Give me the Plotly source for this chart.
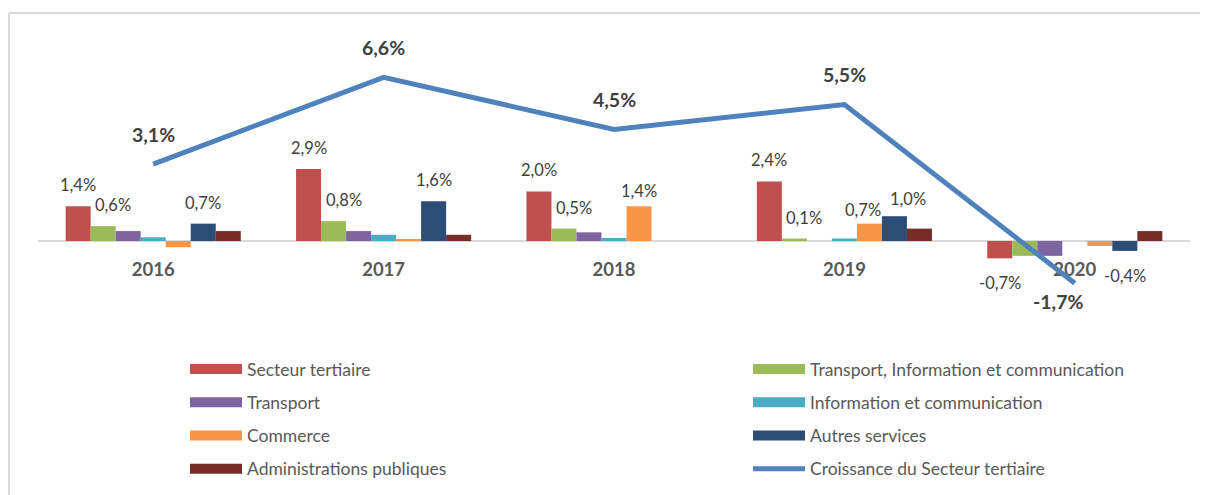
import plotly.graph_objects as go

# ---------------- data ----------------
years = ["2016", "2017", "2018", "2019", "2020"]

secteur_tertiaire = [1.4, 2.9, 2.0, 2.4, -0.7]
transport_info_comm = [0.6, 0.8, 0.5, 0.1, -0.6]
transport = [0.4, 0.4, 0.35, None, -0.6]
information_comm = [0.15, 0.25, 0.12, 0.1, None]
commerce = [-0.25, 0.07, 1.4, 0.7, -0.2]
autres_services = [0.7, 1.6, None, 1.0, -0.4]
administrations = [0.4, 0.25, None, 0.5, 0.4]
croissance_tertiaire = [3.1, 6.6, 4.5, 5.5, -1.7]

bar_names = [
    "Secteur tertiaire",
    "Transport, Information et communication",
    "Transport",
    "Information et communication",
    "Commerce",
    "Autres services",
    "Administrations publiques",
]
bar_values = [
    secteur_tertiaire,
    transport_info_comm,
    transport,
    information_comm,
    commerce,
    autres_services,
    administrations,
]
line_name = "Croissance du Secteur tertiaire"

# which bars carry a data label (series index -> years shown)
labeled_bars = {
    0: [True, True, True, True, True],
    1: [True, True, True, True, False],
    4: [False, False, True, True, False],
    5: [True, True, False, True, True],
}

# ---------------- style ----------------
bar_colors = ["#C0504D", "#9BBB59", "#8064A2", "#4BACC6", "#F79646", "#2C4D75", "#772C2A"]
line_color = "#4F81BD"
font_family = "Lato, 'Open Sans', sans-serif"
label_color = "#404040"
axis_text_color = "#595959"
border_color = "#D9D9D9"

# label placement tweaks (pixels)
label_xshift_series = {1: 10}
label_shift_point = {(4, 2): (0, 15), (4, 3): (-6, 14), (5, 3): (14, 17)}

OFF = 8  # page body margin
W, H = 1208 - OFF, 495 - OFF
PLOT_LEFT, PLOT_RIGHT, PLOT_TOP, PLOT_BOTTOM = 38, 1190, 20, 320  # screen px
ML = PLOT_LEFT - OFF
MR = W - (PLOT_RIGHT - OFF)
MT = PLOT_TOP - OFF
MB = H - (PLOT_BOTTOM - OFF)
PLOT_W = PLOT_RIGHT - PLOT_LEFT
PLOT_H = PLOT_BOTTOM - PLOT_TOP
PX_PER_UNIT = 24.8
ZERO_Y = 241  # screen px
ymax = (ZERO_Y - PLOT_TOP) / PX_PER_UNIT
ymin = -(PLOT_BOTTOM - ZERO_Y) / PX_PER_UNIT
BARGAP = 0.24
n_bars = len(bar_names)
bar_w = (1 - BARGAP) / n_bars


def px_x(px):
    return (px - PLOT_LEFT) / PLOT_W


def px_y(py):
    return (PLOT_BOTTOM - py) / PLOT_H


def fmt(v):
    return f"{v:.1f}".replace(".", ",") + "%"


xs = list(range(len(years)))

fig = go.Figure()

for k, (name, vals, col) in enumerate(zip(bar_names, bar_values, bar_colors)):
    fig.add_trace(go.Bar(
        x=xs, y=vals, name=name, marker=dict(color=col, line=dict(width=0)),
        legendgroup=name, showlegend=False,
        hovertemplate=name + " %{y}<extra></extra>",
    ))

fig.add_trace(go.Scatter(
    x=xs, y=croissance_tertiaire, name=line_name, mode="lines",
    line=dict(color=line_color, width=5),
    legend="legend2", legendgroup=line_name, showlegend=True, legendrank=900,
))

# legend entries (wide swatches like the original)
left_col = [0, 2, 4, 6]
right_col = [1, 3, 5]
for r, k in enumerate(left_col + right_col):
    fig.add_trace(go.Scatter(
        x=[None], y=[None], mode="lines", name=bar_names[k],
        line=dict(color=bar_colors[k], width=11),
        legend="legend" if k in left_col else "legend2",
        legendgroup=bar_names[k], showlegend=True, hoverinfo="skip",
        legendrank=100 + r,
    ))

annotations = []
for k, flags in labeled_bars.items():
    for i, show in enumerate(flags):
        v = bar_values[k][i]
        if not show or v is None:
            continue
        dx, dy = label_shift_point.get((k, i), (label_xshift_series.get(k, 0), 21 if v >= 0 else -25))
        annotations.append(dict(
            x=i + (k - (n_bars - 1) / 2) * bar_w, y=v, xref="x", yref="y",
            text=fmt(v), showarrow=False, yshift=dy, xshift=dx,
            font=dict(family=font_family, size=16.5, color=label_color),
        ))
for i, v in enumerate(croissance_tertiaire):
    annotations.append(dict(
        x=i, y=v, xref="x", yref="y", text="<b>" + fmt(v) + "</b>",
        showarrow=False,
        yshift=30 if v >= 0 else -18, xshift=0 if v >= 0 else -17,
        font=dict(family=font_family, size=19.5, color=label_color),
    ))

shapes = [
    dict(type="line", xref="paper", yref="paper", x0=px_x(OFF + 1), x1=px_x(1210),
         y0=px_y(13), y1=px_y(13), line=dict(color=border_color, width=2)),
    dict(type="line", xref="paper", yref="paper", x0=px_x(OFF + 1), x1=px_x(OFF + 1),
         y0=px_y(13), y1=px_y(500), line=dict(color=border_color, width=2)),
]

legend_style = dict(
    xanchor="left", yanchor="top", orientation="v", itemwidth=52,
    tracegroupgap=7.5, traceorder="grouped",
    font=dict(family=font_family, size=17.5, color=axis_text_color),
    bgcolor="rgba(0,0,0,0)",
)

fig.update_layout(
    width=W, height=H,
    margin=dict(l=ML, r=MR, t=MT, b=MB, autoexpand=False),
    paper_bgcolor="white", plot_bgcolor="white",
    barmode="group", bargap=BARGAP, bargroupgap=0,
    font=dict(family=font_family, color=label_color),
    annotations=annotations, shapes=shapes,
    xaxis=dict(
        range=[-0.5, len(years) - 0.5], tickvals=xs, ticktext=years,
        anchor="free", position=(0 - ymin) / (ymax - ymin),
        showline=True, linecolor=border_color, linewidth=2, layer="below traces",
        ticks="", showgrid=False, zeroline=False, ticklabelstandoff=12,
        tickfont=dict(family=font_family, size=18.5, color=axis_text_color, weight="bold"),
    ),
    yaxis=dict(range=[ymin, ymax], visible=False, showgrid=False, zeroline=False),
    legend=dict(x=px_x(185), y=px_y(351), **legend_style),
    legend2=dict(x=px_x(748), y=px_y(351), **legend_style),
    showlegend=True,
)

fig.write_html("out.html")
